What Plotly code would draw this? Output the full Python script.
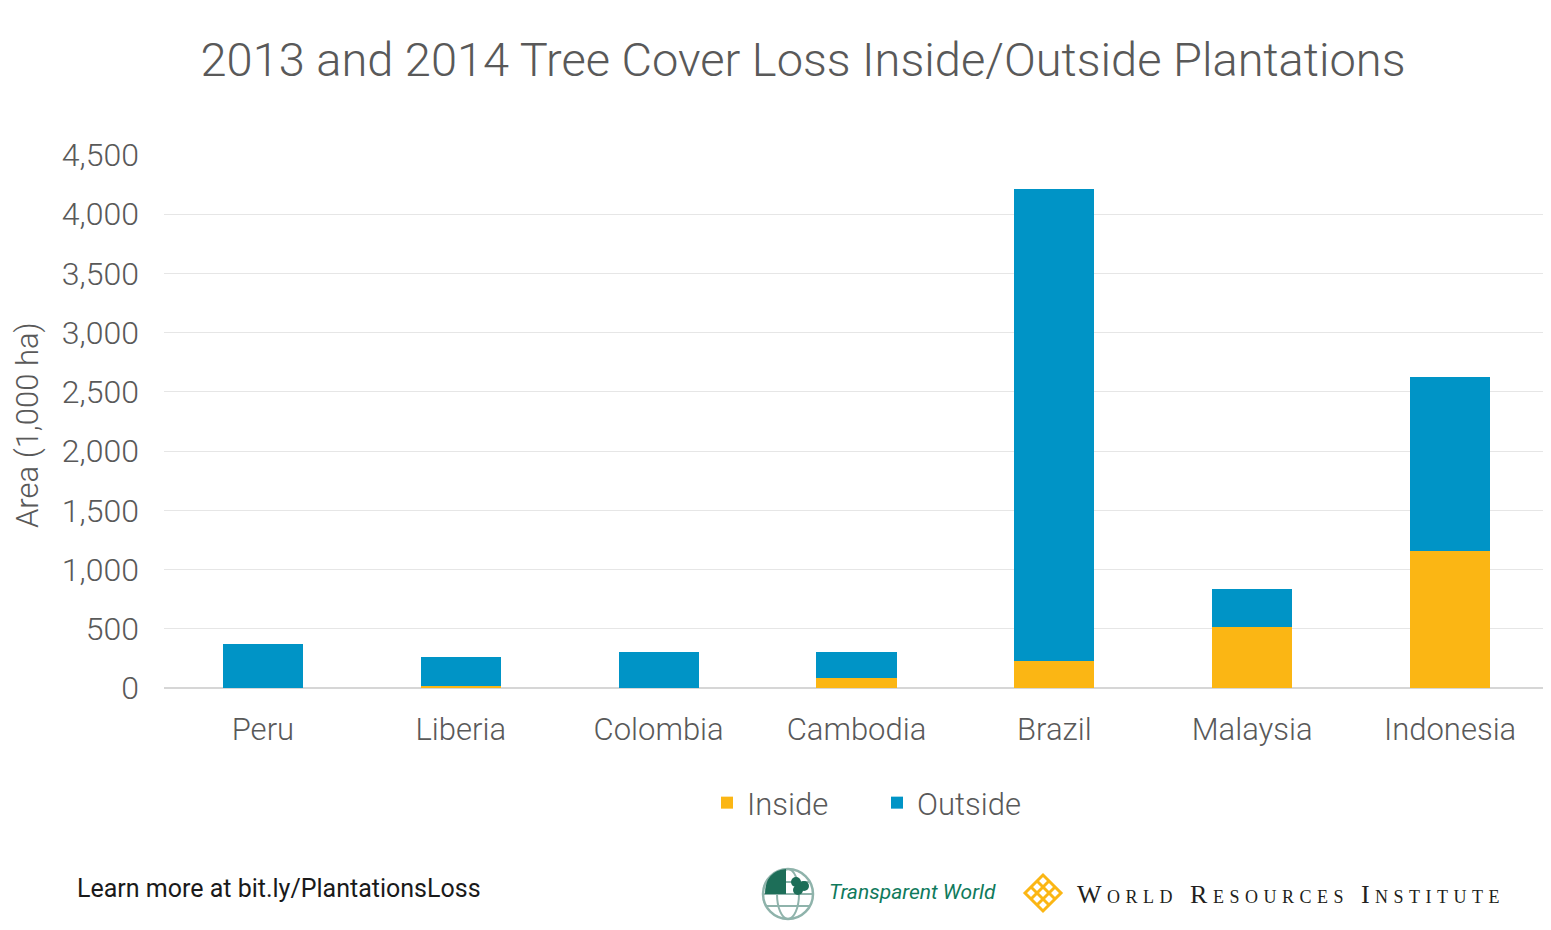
import plotly.graph_objects as go

countries = ["Peru", "Liberia", "Colombia", "Cambodia", "Brazil", "Malaysia", "Indonesia"]
inside = [4, 20, 3, 88, 232, 517, 1157]
outside = [367, 245, 301, 213, 3980, 323, 1470]
y_ticks = [0, 500, 1000, 1500, 2000, 2500, 3000, 3500, 4000, 4500]
y_ticktext = ["0", "500", "1,000", "1,500", "2,000", "2,500", "3,000", "3,500", "4,000", "4,500"]

OFF = 8  # page body margin
W, H = 1543, 922
L, R, T, B = 156, 2, 147, 242
PW = W - L - R
PH = H - T - B

def px(x):
    return (x - OFF - L) / PW

def py(y):
    return (H - B - (y - OFF)) / PH

FONT = "Roboto, Liberation Sans, sans-serif"
GREY = "#595959"
ORANGE = "#FBB614"
BLUE = "#0094C6"

fig = go.Figure()
fig.add_trace(go.Bar(x=countries, y=inside, name="Inside", marker=dict(color=ORANGE, line=dict(width=0))))
fig.add_trace(go.Bar(x=countries, y=outside, name="Outside", marker=dict(color=BLUE, line=dict(width=0))))

annotations = [
    dict(text="Area (1,000 ha)", x=px(27), y=py(425), xref="paper", yref="paper", textangle=-90,
         showarrow=False, xanchor="center", yanchor="middle", font=dict(family=FONT, size=31, color=GREY, weight=300)),
    dict(text="Learn more at bit.ly/PlantationsLoss", x=px(75), y=py(888), xref="paper", yref="paper",
         showarrow=False, xanchor="left", yanchor="middle", font=dict(family=FONT, size=25, color="#1a1a1a")),
    dict(text="<i>Transparent World</i>", x=px(827), y=py(892), xref="paper", yref="paper",
         showarrow=False, xanchor="left", yanchor="middle", font=dict(family=FONT, size=21, color="#0f7a5c")),
    dict(text='<span style="letter-spacing:5.5px">World Resources Institute</span>', x=px(1075), y=py(894), xref="paper", yref="paper",
         showarrow=False, xanchor="left", yanchor="middle",
         font=dict(family="Liberation Serif, DejaVu Serif, serif", size=26, color="#231f20", variant="small-caps")),
]

shapes = []
# Globe logo (Transparent World)
gx, gy, gr = 788, 894, 25
globe_col = "#8fb3ab"
shapes.append(dict(type="circle", xref="paper", yref="paper", x0=px(gx - gr), x1=px(gx + gr), y0=py(gy + gr), y1=py(gy - gr),
                   line=dict(color=globe_col, width=2.5)))
shapes.append(dict(type="circle", xref="paper", yref="paper", x0=px(gx - 11), x1=px(gx + 11), y0=py(gy + gr), y1=py(gy - gr),
                   line=dict(color=globe_col, width=2)))
for dy in (-12, 0, 12):
    half = (gr ** 2 - dy ** 2) ** 0.5
    shapes.append(dict(type="line", xref="paper", yref="paper", x0=px(gx - half), x1=px(gx + half), y0=py(gy + dy), y1=py(gy + dy),
                       line=dict(color=globe_col, width=2)))
shapes.append(dict(type="path", xref="paper", yref="paper",
                   path=f"M {px(gx-gr+2)},{py(gy)} Q {px(gx-gr+2)},{py(gy-gr+2)} {px(gx-2)},{py(gy-gr)} L {px(gx-2)},{py(gy)} Z",
                   fillcolor="#1d6e58", line=dict(width=0)))
for cx, cy in [(gx + 8, gy - 12), (gx + 16, gy - 8), (gx + 10, gy - 4)]:
    shapes.append(dict(type="circle", xref="paper", yref="paper", x0=px(cx - 5), x1=px(cx + 5), y0=py(cy + 5), y1=py(cy - 5),
                       fillcolor="#1d6e58", line=dict(width=0)))

# WRI lattice logo
wx, wy, s = 1043, 893, 18
wcol = ORANGE
diam = f"M {px(wx-s)},{py(wy)} L {px(wx)},{py(wy-s)} L {px(wx+s)},{py(wy)} L {px(wx)},{py(wy+s)} Z"
shapes.append(dict(type="path", xref="paper", yref="paper", path=diam, line=dict(color=wcol, width=3)))
for c in (-s / 3, s / 3):
    x0, y0 = wx + (c + s) / 2, wy + (c - s) / 2
    x1, y1 = wx + (c - s) / 2, wy + (c + s) / 2
    shapes.append(dict(type="line", xref="paper", yref="paper", x0=px(x0), y0=py(y0), x1=px(x1), y1=py(y1),
                       line=dict(color=wcol, width=3)))
    x0, y0 = wx + (c + s) / 2, wy + (s - c) / 2
    x1, y1 = wx + (c - s) / 2, wy + (-s - c) / 2
    shapes.append(dict(type="line", xref="paper", yref="paper", x0=px(x0), y0=py(y0), x1=px(x1), y1=py(y1),
                       line=dict(color=wcol, width=3)))

fig.update_layout(
    width=W, height=H,
    margin=dict(l=L, r=R, t=T, b=B),
    barmode="stack",
    bargap=0.595,
    plot_bgcolor="white",
    paper_bgcolor="white",
    font=dict(family=FONT, color=GREY),
    title=dict(text="2013 and 2014 Tree Cover Loss Inside/Outside Plantations", x=(803 - OFF) / W, xanchor="center",
               y=1 - (60 - OFF) / H, yanchor="middle", font=dict(family=FONT, size=47, color=GREY, weight=300)),
    legend=dict(orientation="h", x=px(877), xanchor="center", y=py(803), yanchor="middle",
                font=dict(family=FONT, size=31, color=GREY, weight=300), itemwidth=30,
                entrywidth=125, entrywidthmode="pixels", traceorder="normal"),
    xaxis=dict(showgrid=False, showline=False, ticks="", tickfont=dict(family=FONT, size=31, color=GREY, weight=300),
               ticklabelstandoff=20),
    yaxis=dict(range=[0, 4500], tickvals=y_ticks, ticktext=y_ticktext, showgrid=True, gridcolor="#e6e6e6", gridwidth=1,
               zeroline=True, zerolinecolor="#d6d6d6", zerolinewidth=2, showline=False, ticks="",
               tickfont=dict(family=FONT, size=32, color=GREY, weight=300), ticklabelstandoff=24),
    annotations=annotations,
    shapes=shapes,
)

fig.write_html("out.html")
